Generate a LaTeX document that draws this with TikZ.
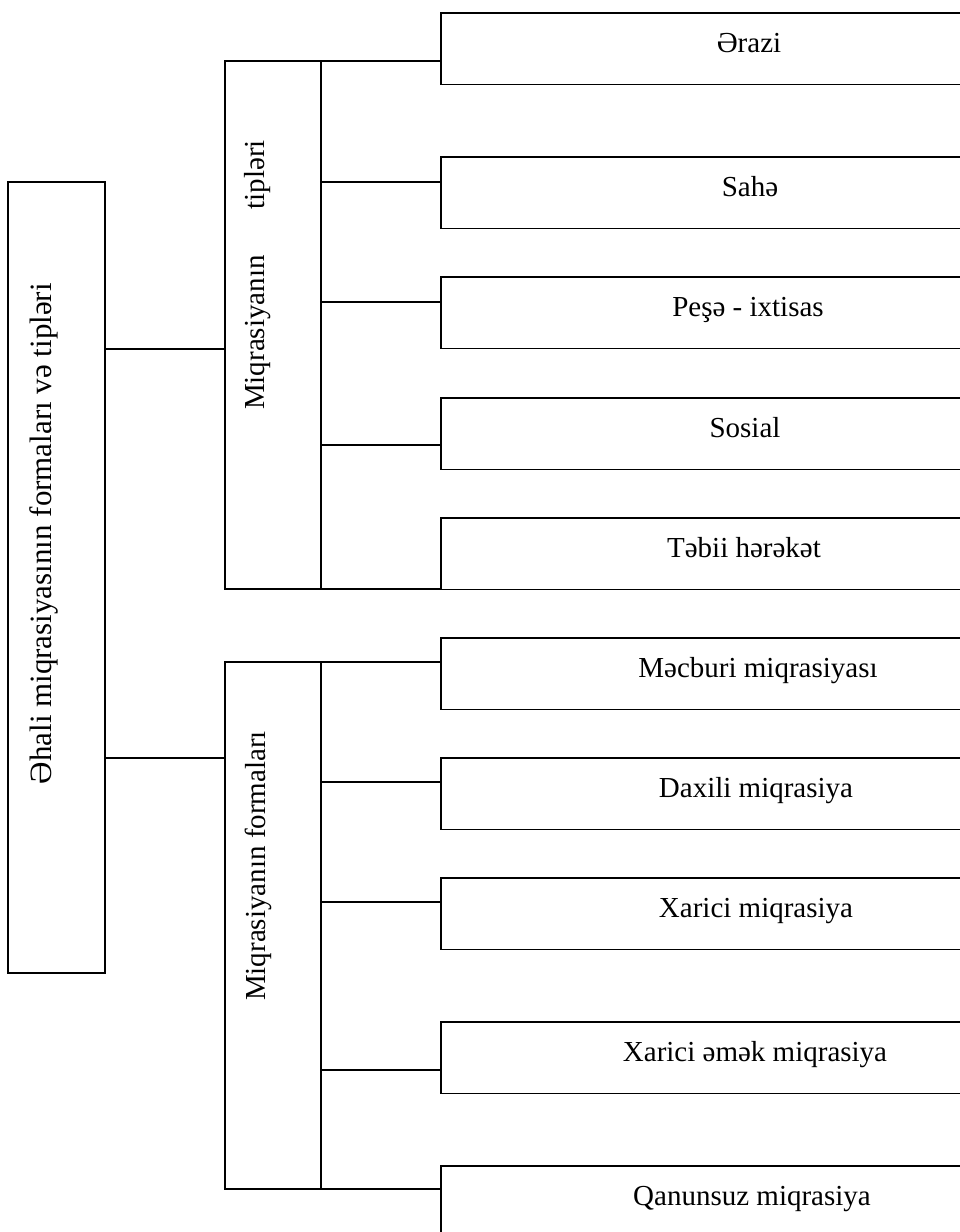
\documentclass[tikz,border=0pt]{standalone}
\usepackage{fontspec}
\setmainfont{Liberation Serif}
\begin{document}
\begin{tikzpicture}[x=1pt,y=-1pt,
  frame/.style={draw=black,line width=1.5pt,fill=none},
  link/.style={draw=black,line width=1.5pt},
  lbl/.style={font=\fontsize{29}{34}\selectfont,inner sep=0pt},
  vlbl/.style={font=\fontsize{29}{34}\selectfont,inner sep=0pt,rotate=90}]
\useasboundingbox (0,0) rectangle (960,1232);
\clip (0,0) rectangle (960,1232);

% root box
\path[frame] (8,182) rectangle (105,973);
\node[vlbl,font=\fontsize{31}{36}\selectfont,anchor=east] (root) at (44,283)
  {Əhali miqrasiyasının formaları və tipləri};

% group boxes
\path[frame] (225,61) rectangle (321,589);
\node[vlbl] (types) at (258,275) {Miqrasiyanın\hspace{46pt}tipləri};
\path[frame] (225,662) rectangle (321,1189);
\node[vlbl] (forms) at (258,866) {Miqrasiyanın formaları};

% root to groups
\draw[link] (105,349) -- (225,349);
\draw[link] (105,758) -- (225,758);

% leaf boxes: top y, connector y, text centre x, text
\foreach \t/\c/\x/\s in {13/61/749/Ərazi, 157/182/750/Sahə, 277/302/748/{Peşə - ixtisas},
                      398/445/745/Sosial, 518/589/744/{Təbii hərəkət},
                      638/662/758/{Məcburi miqrasiyası}, 758/782/756/{Daxili miqrasiya},
                      878/902/756/{Xarici miqrasiya}, 1022/1070/755/{Xarici əmək miqrasiya},
                      1166/1189/752/{Qanunsuz miqrasiya}} {
  \path[frame] (441,\t) rectangle (980,\t+71.5);
  \node[lbl,anchor=base] at (\x,\t+39) {\s};
  \draw[link] (321,\c) -- (441,\c);
}
\end{tikzpicture}
\end{document}
